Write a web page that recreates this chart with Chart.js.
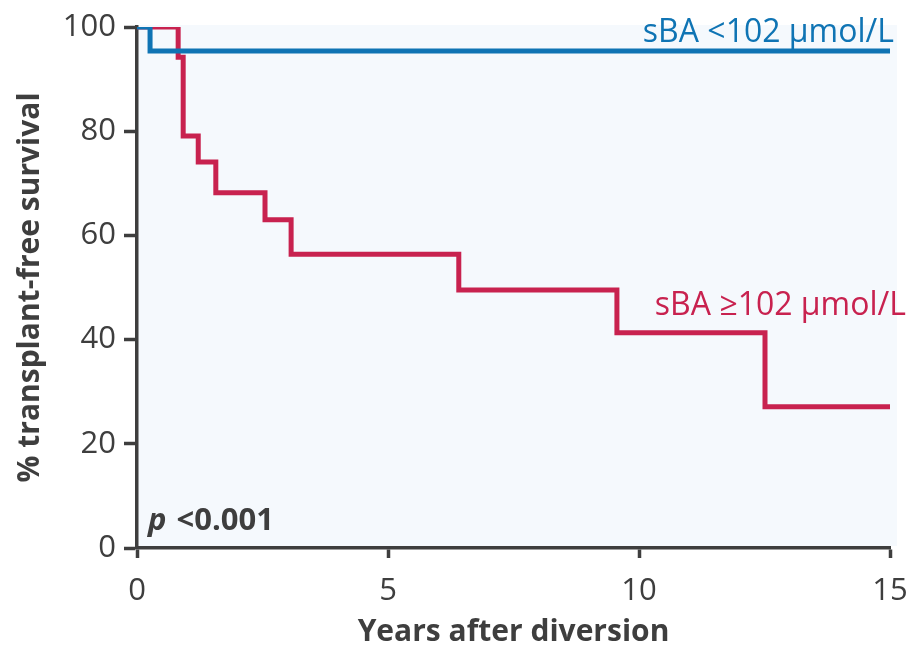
<!DOCTYPE html>
<html>
<head>
<meta charset="utf-8">
<script src="https://cdn.jsdelivr.net/npm/chart.js@4/dist/chart.umd.min.js"></script>
<style>
  html, body { margin: 0; padding: 0; background: #ffffff; }
  #wrap { width: 912px; height: 647px; position: relative; }
</style>
</head>
<body>
<div id="wrap"><canvas id="km" width="912" height="647"></canvas></div>
<script>
// Kaplan–Meier transplant-free survival by serum bile acid level
const lowYears  = [0, 0.26, 15];
const lowSurv   = [100, 95.4, 95.4];
const highYears = [0, 0.82, 0.92, 1.22, 1.57, 2.55, 3.07, 6.41, 9.56, 12.51, 15];
const highSurv  = [100, 94.2, 79.1, 74.1, 68.2, 63.0, 56.4, 49.5, 41.3, 27.1, 27.1];
const xTicks = [0, 5, 10, 15];
const yTicks = [0, 20, 40, 60, 80, 100];

const lowLabel  = 'sBA <102 μmol/L';
const highLabel = 'sBA ≥102 μmol/L';
const xTitle = 'Years after diversion';
const yTitle = '% transplant-free survival';

const BLUE = '#0f74b4';
const RED  = '#c8224f';
const INK  = '#3e3e3e';
const FONT = '"Open Sans", Lato, sans-serif';

const toPoints = (xs, ys) => xs.map((x, i) => ({ x, y: ys[i] }));

// light panel behind the curves
const panelBg = {
  id: 'panelBg',
  beforeDraw(chart) {
    const { ctx, chartArea: a } = chart;
    ctx.save();
    ctx.fillStyle = '#f5f9fd';
    ctx.fillRect(a.left, a.top - 2, a.right - a.left + 7, a.bottom - a.top);
    ctx.restore();
  }
};

// curve labels and p-value
const annotations = {
  id: 'annotations',
  afterDraw(chart) {
    const { ctx, chartArea: a } = chart;
    ctx.save();
    ctx.textBaseline = 'alphabetic';
    ctx.font = '32px ' + FONT;
    ctx.textAlign = 'right';
    ctx.fillStyle = BLUE;
    ctx.fillText(lowLabel, a.right + 4, 42);
    ctx.fillStyle = RED;
    ctx.fillText(highLabel, a.right + 16, 315);

    ctx.textAlign = 'left';
    ctx.fillStyle = INK;
    ctx.font = 'italic bold 31px ' + FONT;
    ctx.fillText('p', a.left + 11, 530);
    const pw = ctx.measureText('p ').width;
    ctx.font = 'bold 31px ' + FONT;
    ctx.fillText('<0.001', a.left + 13 + pw, 530);
    ctx.restore();
  }
};

new Chart(document.getElementById('km'), {
  type: 'line',
  data: {
    datasets: [
      {
        label: lowLabel,
        data: toPoints(lowYears, lowSurv),
        stepped: true,
        borderColor: BLUE,
        borderWidth: 5,
        pointRadius: 0,
        fill: false
      },
      {
        label: highLabel,
        data: toPoints(highYears, highSurv),
        stepped: true,
        borderColor: RED,
        borderWidth: 5,
        pointRadius: 0,
        fill: false
      }
    ]
  },
  options: {
    responsive: false,
    animation: false,
    devicePixelRatio: 1,
    layout: { padding: { left: 0, right: 22, top: 27, bottom: 0 } },
    plugins: {
      legend: { display: false },
      tooltip: { enabled: false }
    },
    scales: {
      x: {
        type: 'linear',
        min: 0,
        max: 15,
        afterBuildTicks(s) { s.ticks = xTicks.map(v => ({ value: v })); },
        afterFit(s) { s.height = 99; s.paddingLeft = 0; s.paddingRight = 0; },
        border: { display: true, color: INK, width: 3.5 },
        grid: { drawOnChartArea: false, drawTicks: true, tickLength: 10, tickWidth: 3.5, tickColor: INK, color: INK },
        ticks: { color: INK, font: { family: FONT, size: 31 }, padding: 15, maxRotation: 0 },
        title: { display: true, text: xTitle, color: INK, font: { family: FONT, size: 30, weight: 'bold' }, padding: { top: 0, bottom: -3 } }
      },
      y: {
        type: 'linear',
        min: 0,
        max: 100,
        afterBuildTicks(s) { s.ticks = yTicks.map(v => ({ value: v })); },
        afterFit(s) { s.width = 137; s.paddingTop = 0; s.paddingBottom = 0; },
        border: { display: true, color: INK, width: 3.5 },
        grid: { drawOnChartArea: false, drawTicks: true, tickLength: 13, tickWidth: 3.5, tickColor: INK, color: INK },
        ticks: { color: INK, font: { family: FONT, size: 31 }, padding: 8 },
        title: { display: true, text: yTitle, color: INK, font: { family: FONT, size: 30, weight: 'bold' }, padding: { top: 12, bottom: 0 } }
      }
    }
  },
  plugins: [panelBg, annotations]
});
</script>
</body>
</html>
